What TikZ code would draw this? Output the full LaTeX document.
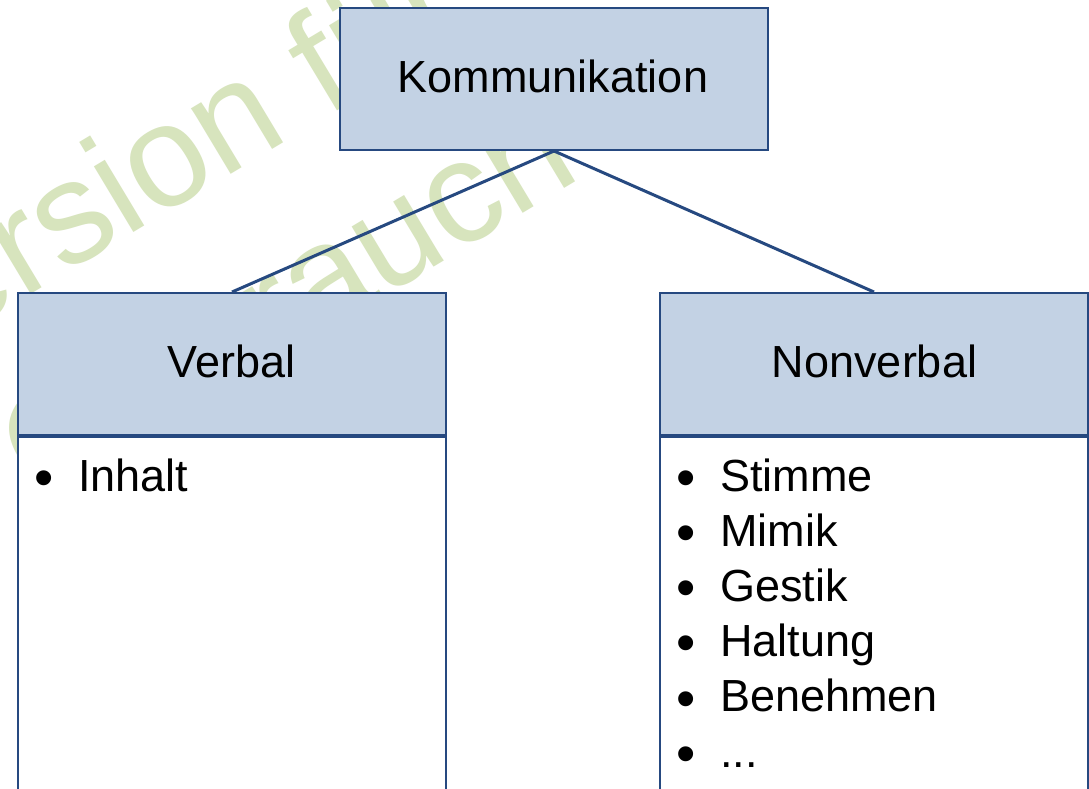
\documentclass[tikz,border=0pt]{standalone}
\usepackage{fontspec}
\setmainfont{Liberation Sans}
\definecolor{boxfill}{RGB}{195,210,228}
\definecolor{boxline}{RGB}{38,73,128}
\definecolor{wmgreen}{RGB}{215,228,189}
\begin{document}
\begin{tikzpicture}[x=1pt,y=-1pt,
  box/.style={draw=boxline, line width=2pt, fill=boxfill,
    minimum width=428pt, minimum height=142pt, inner sep=0pt},
  listbox/.style={draw=boxline, line width=2pt, fill=white,
    minimum width=428pt, minimum height=380pt, inner sep=0pt, anchor=north},
  link/.style={draw=boxline, line width=3pt},
  title/.style={anchor=base, inner sep=0pt, font=\fontsize{45}{54}\selectfont},
  entry/.style={anchor=base west, inner sep=0pt, font=\fontsize{45}{54}\selectfont},
  dot/.style={anchor=base west, inner sep=0pt, font=\fontsize{55}{60}\selectfont},
  wmtext/.style={anchor=base west, inner sep=0pt, rotate=31, text=wmgreen,
    font=\fontsize{145}{170}\selectfont}]

\useasboundingbox (0,0) rectangle (1089,788);
\clip (0,0) rectangle (1089,788);
\fill[white] (0,0) rectangle (1089,788);

% watermark behind everything
\node[wmtext] (wmA) at (-123,387) {Version für den};
\node[wmtext] (wmB) at (38,505) {Gebrauch};

% boxes
\node[box] (komm) at (554,79) {};
\node[box] (verbal) at (232,364) {};
\node[box] (nonverbal) at (874,364) {};
\node[listbox] (verbalbody) at (verbal.south) {};
\node[listbox] (nonverbalbody) at (nonverbal.south) {};

% connectors
\draw[link] (komm.south) -- (verbal.north);
\draw[link] (komm.south) -- (nonverbal.north);

% titles
\node[title] (kommtitle) at (553,92) {Kommunikation};
\node[title] (verbaltitle) at (231.5,377) {Verbal};
\node[title] (nonverbaltitle) at (874.5,377) {Nonverbal};

% verbal list
\node[dot] (vb1) at (34.4,496.3) {•};
\node[entry] (vt1) at (78,491) {Inhalt};

% nonverbal list
\node[dot] (nb1) at (676.4,496.3) {•};
\node[entry] (nt1) at (720,491) {Stimme};
\node[dot] (nb2) at (676.4,551.5) {•};
\node[entry] (nt2) at (720,546.2) {Mimik};
\node[dot] (nb3) at (676.4,606.7) {•};
\node[entry] (nt3) at (720,601.4) {Gestik};
\node[dot] (nb4) at (676.4,661.9) {•};
\node[entry] (nt4) at (720,656.6) {Haltung};
\node[dot] (nb5) at (676.4,717.1) {•};
\node[entry] (nt5) at (720,711.8) {Benehmen};
\node[dot] (nb6) at (676.4,772.3) {•};
\node[entry] (nt6) at (720,767) {...};
\end{tikzpicture}
\end{document}
